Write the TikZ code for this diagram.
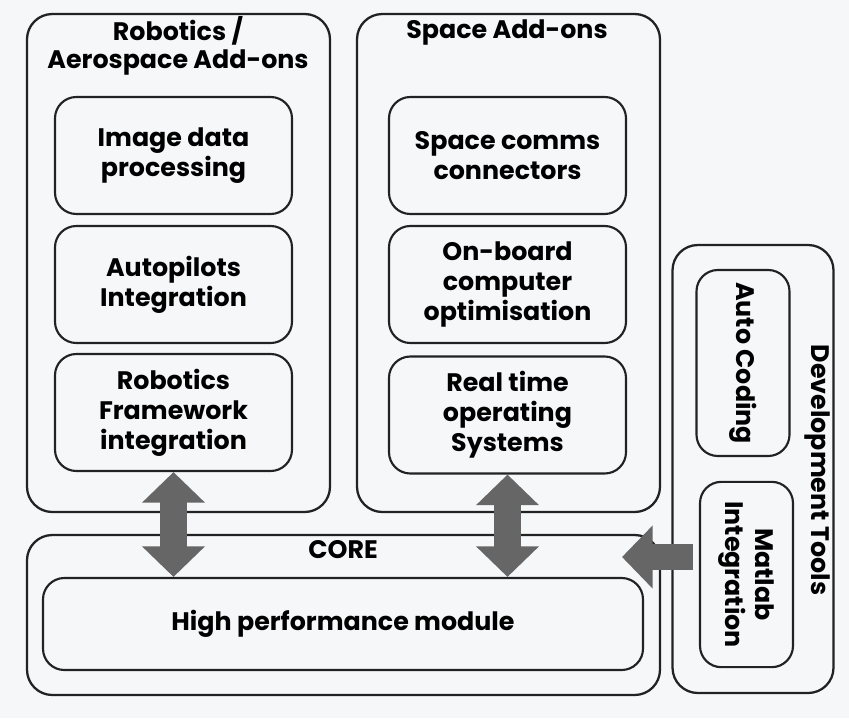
\documentclass[tikz,border=0pt]{standalone}
\usepackage{fontspec}
\setmainfont{Poppins}
\usetikzlibrary{arrows.meta,calc,positioning}
\definecolor{PageGrey}{RGB}{246,247,249}
\definecolor{FrameBlack}{RGB}{34,34,34}
\definecolor{ArrowGrey}{RGB}{102,102,102}
\tikzset{
  groupbox/.style={draw=FrameBlack, line width=1.7pt, rounded corners=19pt, inner sep=0pt},
  block/.style={draw=FrameBlack, line width=1.6pt, rounded corners=16pt, align=center, inner sep=0pt,
    minimum width=177.75pt, minimum height=87.75pt, font=\bfseries\fontsize{19}{22.5}\selectfont},
  grouptitle/.style={align=center, inner sep=0pt, font=\bfseries\fontsize{19}{21}\selectfont},
  bigarrow/.style={draw=ArrowGrey, line width=20pt,
    {Triangle[length=23pt,width=46pt]}-{Triangle[length=23pt,width=46pt]}}
}

\begin{document}
\begin{tikzpicture}[x=0.75pt, y=-0.75pt]
    % page
    \fill[PageGrey] (0,0) rectangle (849,718);

    % the four groups
    \node[groupbox, minimum width=227.25pt, minimum height=373.5pt] (rob) at (178.5,263) {};
    \node[groupbox, minimum width=227.25pt, minimum height=373.5pt] (spc) at (508.5,263) {};
    \node[groupbox, minimum width=474.75pt, minimum height=120pt] (core) at (343.5,615) {};
    \node[groupbox, minimum width=120.75pt, minimum height=336pt] (dev) at (753,469) {};

    % group titles
    \node[grouptitle] (robt) at (178,46) {Robotics /\\Aerospace Add-ons};
    \node[grouptitle] (spct) at (507,32) {Space Add-ons};
    \node[grouptitle] (coret) at (343,550) {CORE};
    \node[grouptitle, rotate=-90] (devt) at (817,470) {Development Tools};

    % robotics / aerospace blocks
    \node[block] (img) at (173.5,155.5) {Image data\\processing};
    \node[block] (ap) at (173.5,284.5) {Autopilots\\Integration};
    \node[block] (fw) at (173.5,412.5) {Robotics\\Framework\\integration};

    % space blocks
    \node[block] (comms) at (507.5,155.5) {Space comms\\connectors};
    \node[block] (obc) at (507.5,284.5) {On-board\\computer\\optimisation};
    \node[block] (rtos) at (507.5,415) {Real time\\operating\\Systems};

    % core and tools
    \node[block, minimum width=450pt, minimum height=69pt] (hpm) at (343,624) {High performance module};
    \node[block, rotate=-90, minimum width=139.5pt, minimum height=69.75pt] (autoc) at (743,363) {Auto Coding};
    \node[block, rotate=-90, minimum width=139pt, minimum height=69.75pt] (mat) at (746.5,574.5) {Matlab\\Integration};

    % links
    \coordinate (tip) at (622,557);
    \coordinate (tail) at (693,557);
    \draw[bigarrow] (fw.south) -- (fw.south |- hpm.north);
    \draw[bigarrow] (rtos.south) -- (rtos.south |- hpm.north);
    \draw[draw=ArrowGrey, line width=20pt, -{Triangle[length=23pt,width=46pt]}] (tail) -- (tip);
\end{tikzpicture}
\end{document}
